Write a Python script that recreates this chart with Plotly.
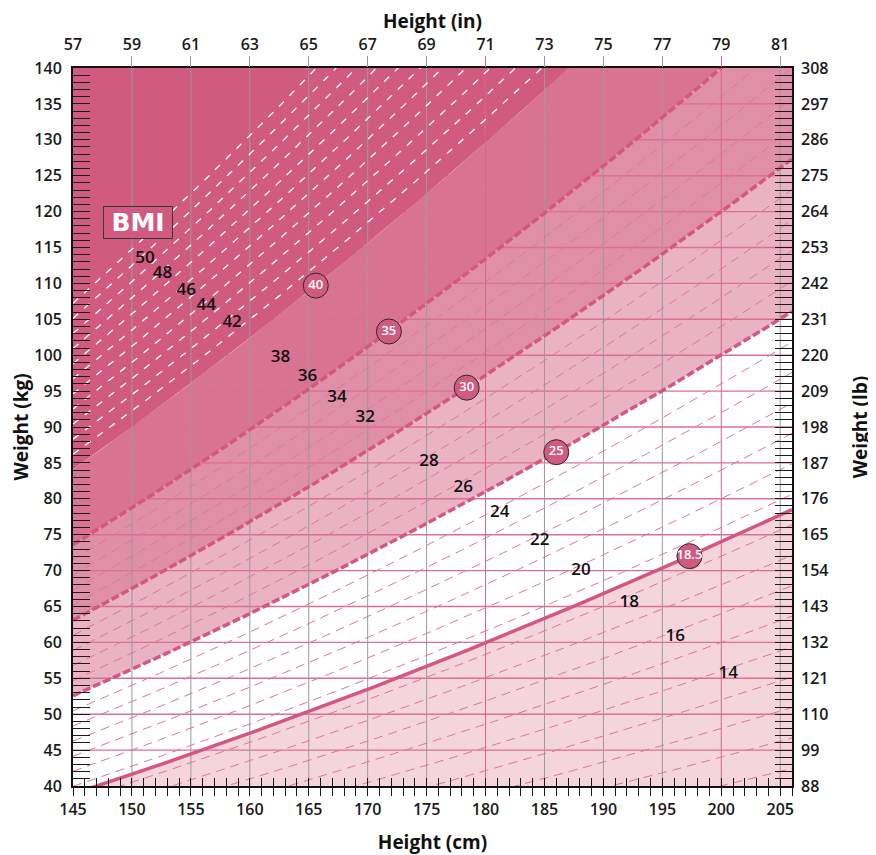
import numpy as np
import plotly.graph_objects as go

# ---------------- data ----------------
cm_ticks = [145, 150, 155, 160, 165, 170, 175, 180, 185, 190, 195, 200, 205]
in_labels = ["57", "59", "61", "63", "65", "67", "69", "71", "73", "75", "77", "79", "81"]
kg_ticks = [40, 45, 50, 55, 60, 65, 70, 75, 80, 85, 90, 95, 100, 105, 110, 115, 120, 125, 130, 135, 140]
lb_labels = ["88", "99", "110", "121", "132", "143", "154", "165", "176", "187", "198",
             "209", "220", "231", "242", "253", "264", "275", "286", "297", "308"]

gray_vlines = [150, 155, 160, 165, 170, 175, 185, 190, 195, 205]
pink_vlines = [180, 200]
pink_hlines = [45, 50, 55, 60, 65, 70, 75, 80, 85, 90, 95, 100, 105, 110, 115, 120, 125, 130, 135]

thin_bmi = [10, 11, 12, 13, 14, 15, 16, 17, 18, 19, 20, 21, 22, 23, 24, 26, 27, 28, 29,
            31, 32, 33, 34, 36, 37, 38, 39]
white_bmi = [41, 42, 43, 44, 45, 46, 47, 48, 49, 50, 51]
thick_dashed_bmi = [25, 30, 35]
solid_bmi = [18.5]

# category bands (lower BMI, upper BMI, colour)
band_lo = [0, 25, 30, 35]
band_hi = [18.5, 30, 35, 40]
band_col = ["#f4d5dc", "#e9b3c3", "#df8fa7", "#d87391"]
obese3_lo, obese3_hi, obese3_col = 40, 90, "#d05a80"

# BMI number labels (value, height cm, weight kg)
label_vals = [50, 48, 46, 44, 42, 38, 36, 34, 32, 28, 26, 24, 22, 20, 18, 16, 14]
label_h = [151.1, 152.6, 154.6, 156.3, 158.5, 162.6, 164.9, 167.4, 169.8,
           175.2, 178.1, 181.2, 184.6, 188.1, 192.2, 196.1, 200.6]
label_w = [113.5, 111.4, 109.0, 106.9, 104.5, 99.7, 97.0, 94.1, 91.3,
           85.1, 81.6, 78.1, 74.1, 70.0, 65.5, 60.8, 55.6]

# circled category markers (BMI, height cm)
circle_bmi = [40, 35, 30, 25, 18.5]
circle_h = [165.6, 171.8, 178.4, 186.0, 197.3]
circle_txt = ["40", "35", "30", "25", "18.5"]

x_range = [145, 206]
y_range = [40, 140]

# ---------------- helpers ----------------
h = np.linspace(x_range[0], x_range[1], 250)


def weight(bmi):
    return bmi * (h / 100.0) ** 2


def polyline(values, along_x):
    xs, ys = [], []
    for v in values:
        if along_x:
            xs += [v, v, None]
            ys += [y_range[0], y_range[1], None]
        else:
            xs += [x_range[0], x_range[1], None]
            ys += [v, v, None]
    return xs, ys


def curves(bmis):
    xs, ys = [], []
    for b in bmis:
        xs += list(h) + [None]
        ys += list(weight(b)) + [None]
    return xs, ys


fig = go.Figure()

# light category bands
for lo, hi, col in zip(band_lo, band_hi, band_col):
    fig.add_trace(go.Scatter(
        x=np.concatenate([h, h[::-1]]), y=np.concatenate([weight(lo), weight(hi)[::-1]]),
        fill="toself", fillcolor=col, line=dict(width=0), mode="lines",
        hoverinfo="skip", showlegend=False))

# pink horizontal grid
hx, hy = polyline(pink_hlines, False)
fig.add_trace(go.Scatter(x=hx, y=hy, mode="lines", line=dict(color="#dc6f96", width=1.4),
                         hoverinfo="skip", showlegend=False))

# obesity class III band (covers grid)
fig.add_trace(go.Scatter(
    x=np.concatenate([h, h[::-1]]), y=np.concatenate([weight(obese3_lo), weight(obese3_hi)[::-1]]),
    fill="toself", fillcolor=obese3_col, line=dict(width=0), mode="lines",
    hoverinfo="skip", showlegend=False))

# vertical grid
gx, gy = polyline(gray_vlines, True)
fig.add_trace(go.Scatter(x=gx, y=gy, mode="lines", line=dict(color="#9a9a9a", width=1),
                         hoverinfo="skip", showlegend=False))
px_, py_ = polyline(pink_vlines, True)
fig.add_trace(go.Scatter(x=px_, y=py_, mode="lines", line=dict(color="#d8648b", width=1),
                         hoverinfo="skip", showlegend=False))

# thin dashed BMI lines
tx, ty = curves(thin_bmi)
fig.add_trace(go.Scatter(x=tx, y=ty, mode="lines",
                         line=dict(color="#de7698", width=1, dash="9px,6px"),
                         hoverinfo="skip", showlegend=False))
wx, wy = curves(white_bmi)
fig.add_trace(go.Scatter(x=wx, y=wy, mode="lines",
                         line=dict(color="#ffffff", width=1.3, dash="7px,8px"),
                         hoverinfo="skip", showlegend=False))

# thick category lines
kx, ky = curves(thick_dashed_bmi)
fig.add_trace(go.Scatter(x=kx, y=ky, mode="lines",
                         line=dict(color="#d5577f", width=3.5, dash="8px,3px"),
                         hoverinfo="skip", showlegend=False))
sx, sy = curves(solid_bmi)
fig.add_trace(go.Scatter(x=sx, y=sy, mode="lines",
                         line=dict(color="#d5577f", width=3.5),
                         hoverinfo="skip", showlegend=False))

# BMI value labels
fig.add_trace(go.Scatter(x=label_h, y=label_w, mode="text", text=[str(v) for v in label_vals],
                         textfont=dict(family="Open Sans", size=17, color="#111111", weight=600),
                         xaxis="x2", yaxis="y", hoverinfo="skip", showlegend=False))

# circled category markers
c_h = np.array(circle_h)
c_w = np.array(circle_bmi) * (c_h / 100.0) ** 2
fig.add_trace(go.Scatter(x=c_h, y=c_w, mode="markers+text", text=circle_txt,
                         marker=dict(size=25, color="#d05a80", line=dict(color="#2a2a2a", width=1)),
                         textfont=dict(family="Open Sans", size=13, color="#ffffff", weight=600),
                         textposition="middle center",
                         xaxis="x3", yaxis="y", hoverinfo="skip", showlegend=False))

# dummy traces so that the extra tick axes are drawn
for xa, ya in [("x4", "y"), ("x5", "y"), ("x", "y2")]:
    fig.add_trace(go.Scatter(x=[None], y=[None], xaxis=xa, yaxis=ya, mode="lines",
                             hoverinfo="skip", showlegend=False))

tickfont = dict(family="Open Sans", size=16, color="#1a1a1a", weight=600)
titlefont = dict(family="Open Sans", size=19, color="#111111", weight=700)

fig.update_layout(
    width=868, height=847,
    margin=dict(l=65, r=84, t=60, b=69, autoexpand=False),
    paper_bgcolor="#ffffff", plot_bgcolor="#ffffff",
    showlegend=False,
    xaxis=dict(range=x_range, tickmode="array", tickvals=cm_ticks, automargin=False,
               ticks="outside", ticklen=8, tickcolor="#1a1a1a", tickwidth=1.3,
               minor=dict(dtick=1, tick0=145, ticks="outside", ticklen=8, tickcolor="#1a1a1a", tickwidth=1.3),
               showline=True, linecolor="#111111", linewidth=2, mirror=True,
               showgrid=False, zeroline=False, tickfont=tickfont,
               title=dict(text="Height (cm)", font=titlefont, standoff=17)),
    xaxis3=dict(range=x_range, overlaying="x", side="bottom", tickmode="linear", tick0=145, dtick=1,
                ticks="inside", ticklen=8, tickcolor="#1a1a1a", tickwidth=1.3, automargin=False,
                showticklabels=False, showline=False, showgrid=False, zeroline=False),
    xaxis2=dict(range=x_range, overlaying="x", side="top", tickmode="array", tickvals=cm_ticks,
                ticktext=in_labels, ticks="outside", ticklen=11, tickcolor="rgba(0,0,0,0)",
                showline=False, showgrid=False, zeroline=False, tickfont=tickfont, automargin=False,
                title=dict(text="Height (in)", font=titlefont, standoff=19)),
    xaxis4=dict(range=x_range, overlaying="x", side="top", tickmode="array", tickvals=gray_vlines,
                ticks="outside", ticklen=11, tickcolor="#9a9a9a", tickwidth=1, automargin=False,
                showticklabels=False, showline=False, showgrid=False, zeroline=False),
    xaxis5=dict(range=x_range, overlaying="x", side="top", tickmode="array", tickvals=pink_vlines,
                ticks="outside", ticklen=11, tickcolor="#d8648b", tickwidth=1, automargin=False,
                showticklabels=False, showline=False, showgrid=False, zeroline=False),
    yaxis=dict(range=y_range, tickmode="array", tickvals=kg_ticks, automargin=False,
               ticks="inside", ticklen=17, tickcolor="#1a1a1a", tickwidth=1.3,
               minor=dict(dtick=1, tick0=40, ticks="inside", ticklen=17, tickcolor="#1a1a1a", tickwidth=1.3),
               showline=True, linecolor="#111111", linewidth=2, mirror=True,
               showgrid=False, zeroline=False, tickfont=tickfont, ticklabelstandoff=6,
               title=dict(text="Weight (kg)", font=titlefont, standoff=10)),
    yaxis2=dict(range=y_range, overlaying="y", side="right", tickmode="array", tickvals=kg_ticks,
                ticktext=lb_labels, ticks="inside", ticklen=17, tickcolor="#1a1a1a", tickwidth=1.3,
                minor=dict(dtick=1, tick0=40, ticks="inside", ticklen=17, tickcolor="#1a1a1a", tickwidth=1.3),
                showline=False, showgrid=False, zeroline=False, tickfont=tickfont, ticklabelstandoff=8,
                automargin=False,
                title=dict(text="Weight (lb)", font=titlefont, standoff=26)),
    annotations=[dict(x=150.55, y=118.5, xref="x", yref="y", text="<b>BMI</b>", showarrow=False,
                      font=dict(family="DejaVu Sans", size=25, color="#ffffff"),
                      width=68, height=31,
                      bgcolor="#d05a80", bordercolor="#3a3a3a", borderwidth=1, borderpad=0)],
)

fig.write_html("out.html")
